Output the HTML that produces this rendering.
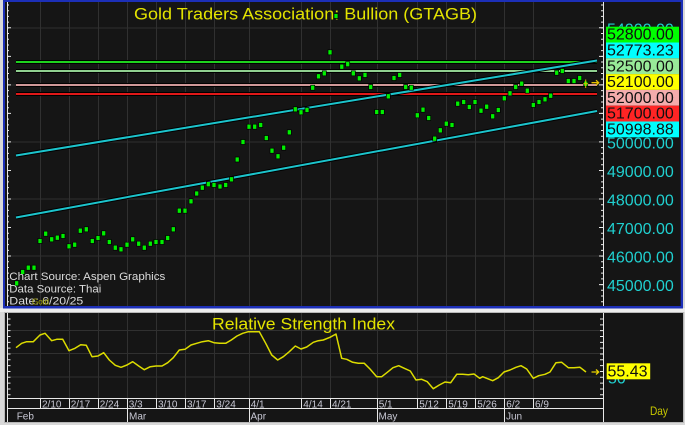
<!DOCTYPE html>
<html>
<head>
<meta charset="utf-8">
<style>
html,body{margin:0;padding:0;background:#d8d8d8;}
svg{display:block;}
</style>
</head>
<body>
<svg width="685" height="425" viewBox="0 0 685 425" xmlns="http://www.w3.org/2000/svg" font-family="'Liberation Sans', Arial, sans-serif">
<rect x="0" y="0" width="685" height="425" fill="#d8d8d8"/>
<rect x="0" y="308" width="685" height="4" fill="#ececec"/>

<!-- ===== Upper panel ===== -->
<rect x="3" y="0" width="680" height="308.5" fill="#1c2fb8"/>
<rect x="5" y="2" width="675.7" height="304" fill="#151515"/>

<!-- vertical gridlines -->
<g stroke="#303030" stroke-width="1">
<path d="M40.5,2V306M69.5,2V306M98.5,2V306M127.5,2V306M156.5,2V306M185.5,2V306M214.5,2V306M249.5,2V306M301.5,2V306M330.5,2V306M377.5,2V306M417.5,2V306M446.5,2V306M475.5,2V306M504.5,2V306M533.5,2V306"/>
<path d="M7,28H603M7,85H603M7,142H603M7,199H603M7,256H603"/>
</g>

<!-- left & right axis -->
<g stroke="#e8e8e8">
<line x1="7.5" y1="2" x2="7.5" y2="306" stroke-width="1"/>
<line x1="8" y1="4.5" x2="8" y2="306" stroke-width="2" stroke-dasharray="1 4.706"/>
<line x1="9" y1="27.3" x2="9" y2="306" stroke-width="4" stroke-dasharray="1 27.53"/>
<line x1="603.5" y1="2" x2="603.5" y2="306" stroke-width="1"/>
<line x1="602" y1="4.5" x2="602" y2="306" stroke-width="2" stroke-dasharray="1 4.706"/>
<line x1="601" y1="27.3" x2="601" y2="306" stroke-width="4" stroke-dasharray="1 27.53"/>
</g>

<!-- horizontal level lines -->
<g>
<rect x="16" y="60" width="581" height="4" fill="#000"/>
<rect x="16" y="61" width="581" height="2" fill="#1ed21e"/>
<rect x="16" y="69" width="581" height="4" fill="#000"/>
<rect x="16" y="70" width="581" height="2" fill="#90d090"/>
<rect x="16" y="83" width="581" height="4" fill="#000"/>
<rect x="16" y="84" width="581" height="2" fill="#d09898"/>
<rect x="16" y="92" width="581" height="4" fill="#000"/>
<rect x="16" y="93" width="581" height="2" fill="#e01818"/>
</g>

<!-- channel lines -->
<g stroke-linecap="butt">
<line x1="16" y1="155.5" x2="597" y2="60.5" stroke="#000" stroke-width="4"/>
<line x1="16" y1="217.5" x2="597" y2="111" stroke="#000" stroke-width="4"/>
<line x1="16" y1="155.5" x2="597" y2="60.5" stroke="#1cc4cc" stroke-width="2"/>
<line x1="16" y1="217.5" x2="597" y2="111" stroke="#1cc4cc" stroke-width="2"/>
</g>

<!-- title -->
<text x="134" y="19.5" font-size="17" fill="#e4e400" textLength="343" lengthAdjust="spacingAndGlyphs">Gold  Traders  Association:  Bullion  (GTAGB)</text>

<!-- price dots -->
<path fill="#00f000" stroke="#000" stroke-width="0.7" d="M14.7,280.8h4v5h-4zM20.7,269.5h4v5h-4zM26.3,265.2h4v5h-4zM32,265.2h4v5h-4zM38,238.5h4v5h-4zM43.7,231.2h4v5h-4zM49.7,236.8h4v5h-4zM55.3,235.2h4v5h-4zM61,233.5h4v5h-4zM67,243.8h4v5h-4zM72.7,242.2h4v5h-4zM78.3,228.2h4v5h-4zM84.3,226.8h4v5h-4zM90.3,238.5h4v5h-4zM96,235.5h4v5h-4zM101.7,230.8h4v5h-4zM107.3,239.5h4v5h-4zM113.3,245.2h4v5h-4zM119,246.8h4v5h-4zM125,242.2h4v5h-4zM130.7,236.8h4v5h-4zM136.7,241.2h4v5h-4zM142.3,245.2h4v5h-4zM148.3,241.2h4v5h-4zM154,239.5h4v5h-4zM160,239.5h4v5h-4zM165.7,235.5h4v5h-4zM171.3,226.8h4v5h-4zM177.3,208.2h4v5h-4zM183,208.2h4v5h-4zM189,198.8h4v5h-4zM194.7,191h4v5h-4zM200.3,185.2h4v5h-4zM206.3,181.7h4v5h-4zM212,182.5h4v5h-4zM218,184h4v5h-4zM223.7,182.5h4v5h-4zM229.5,176.8h4v5h-4zM235.2,157h4v5h-4zM241,139.5h4v5h-4zM247,124.2h4v5h-4zM252.7,124.2h4v5h-4zM258.7,122.5h4v5h-4zM264.3,135.5h4v5h-4zM270,148.2h4v5h-4zM276,153.8h4v5h-4zM281.7,145.2h4v5h-4zM287.3,129.8h4v5h-4zM293.3,106.8h4v5h-4zM299,109.8h4v5h-4zM305,107.5h4v5h-4zM310.7,85.2h4v5h-4zM316.5,73.8h4v5h-4zM322.3,70.8h4v5h-4zM328,49.8h4v5h-4zM334,13.5h4v5h-4zM339.8,64.2h4v5h-4zM345.7,61.7h4v5h-4zM351.3,70.8h4v5h-4zM357.3,75.8h4v5h-4zM363,72.5h4v5h-4zM368.7,84.5h4v5h-4zM374.7,109.5h4v5h-4zM380.3,109.5h4v5h-4zM386.3,93.8h4v5h-4zM392,75.5h4v5h-4zM397.7,72.5h4v5h-4zM403.7,84.5h4v5h-4zM409.3,85.2h4v5h-4zM415.3,112.8h4v5h-4zM421,107.2h4v5h-4zM426.7,115.5h4v5h-4zM432.7,136.2h4v5h-4zM438.3,127.8h4v5h-4zM444.3,121.2h4v5h-4zM450,122.5h4v5h-4zM455.7,101.2h4v5h-4zM461.7,99.5h4v5h-4zM467.3,104.5h4v5h-4zM473,99.5h4v5h-4zM479,108.2h4v5h-4zM484.7,104.2h4v5h-4zM490.7,113.8h4v5h-4zM496.3,107.5h4v5h-4zM502.3,95.8h4v5h-4zM508,90.8h4v5h-4zM513.7,84.5h4v5h-4zM519.7,81.2h4v5h-4zM525.3,88.2h4v5h-4zM531.3,102.5h4v5h-4zM537,99.5h4v5h-4zM543,96.8h4v5h-4zM548.7,93.2h4v5h-4zM554.7,70.2h4v5h-4zM560.3,68.5h4v5h-4zM566.3,78.5h4v5h-4zM572,78.5h4v5h-4zM577.7,75.5h4v5h-4zM583.7,81.2h4v5h-4z"/>
<!-- last marker and arrow -->
<path d="M585.7,79.5V88M583.2,83.7H588.2" stroke="#d8c000" stroke-width="1"/>
<path d="M591.5,82.7H598.5M596,80.2L598.7,82.7L596,85.2" stroke="#e8c000" stroke-width="1.3" fill="none"/>

<!-- source text -->
<g font-size="11" fill="#dcdcdc">
<text x="9.3" y="280" textLength="156" lengthAdjust="spacingAndGlyphs">Chart  Source:  Aspen  Graphics</text>
<text x="9.3" y="292.3" textLength="92" lengthAdjust="spacingAndGlyphs">Data  Source:  Thai</text>
<text x="9.3" y="304.5" textLength="74" lengthAdjust="spacingAndGlyphs">Date:     6/20/25</text>
</g>
<text x="32" y="304.5" font-size="8" fill="#a8a800">Gold</text>

<!-- right axis labels -->
<g font-size="16" fill="#20d0d0">
<text x="607" y="34.5">54000.00</text>
<text x="607" y="148.4">50000.00</text>
<text x="607" y="177">49000.00</text>
<text x="607" y="205.5">48000.00</text>
<text x="607" y="234">47000.00</text>
<text x="607" y="262.5">46000.00</text>
<text x="607" y="291.1">45000.00</text>
</g>
<g>
<rect x="606" y="26.7" width="73" height="15.8" fill="#00ff00"/>
<rect x="606" y="42.5" width="73" height="15.8" fill="#00ffff"/>
<rect x="606" y="58.3" width="73" height="15.8" fill="#98ea98"/>
<rect x="606" y="74.1" width="73" height="15.8" fill="#ffff00"/>
<rect x="606" y="89.9" width="73" height="15.8" fill="#f4acac"/>
<rect x="606" y="105.7" width="73" height="15.8" fill="#ff2424"/>
<rect x="606" y="121.5" width="73" height="15.8" fill="#00ffff"/>
</g>
<g font-size="16" fill="#101010">
<text x="607" y="39.7">52800.00</text>
<text x="607" y="55.5">52773.23</text>
<text x="607" y="71.3">52500.00</text>
<text x="607" y="87.1">52100.00</text>
<text x="607" y="102.9">52000.00</text>
<text x="607" y="118.7">51700.00</text>
<text x="607" y="134.5">50998.88</text>
</g>

<!-- ===== Lower panel ===== -->
<rect x="4.5" y="312.5" width="679" height="110" fill="#151515" stroke="#b8b8b8" stroke-width="1"/>

<g stroke="#303030" stroke-width="1">
<path d="M40.5,313V398M69.5,313V398M98.5,313V398M127.5,313V398M156.5,313V398M185.5,313V398M214.5,313V398M249.5,313V398M301.5,313V398M330.5,313V398M377.5,313V398M417.5,313V398M446.5,313V398M475.5,313V398M504.5,313V398M533.5,313V398"/>
<path d="M7,330.5H603M7,353.5H603M7,377H603"/>
</g>

<g stroke="#e8e8e8">
<line x1="7.5" y1="313" x2="7.5" y2="422" stroke-width="1"/>
<line x1="9" y1="318.5" x2="9" y2="397" stroke-width="3" stroke-dasharray="1 4.83"/>
<line x1="603.5" y1="313" x2="603.5" y2="422" stroke-width="1"/>
<line x1="601.5" y1="318.5" x2="601.5" y2="397" stroke-width="3" stroke-dasharray="1 4.83"/>
<path d="M7,398.5H603M7,408.5H603" stroke-width="1"/>
<path d="M40.5,398V408.5M69.5,398V408.5M98.5,398V408.5M127.5,398V422M156.5,398V408.5M185.5,398V408.5M214.5,398V408.5M249.5,398V422M301.5,398V408.5M330.5,398V408.5M377.5,398V422M417.5,398V408.5M446.5,398V408.5M475.5,398V408.5M504.5,398V422M533.5,398V408.5" stroke-width="1"/>
</g>

<!-- RSI title -->
<text x="212" y="329.5" font-size="17" fill="#e4e400" textLength="183" lengthAdjust="spacingAndGlyphs">Relative  Strength  Index</text>

<!-- RSI line -->
<polyline fill="none" stroke="#dcdc00" stroke-width="1.5" stroke-linejoin="round" points="16,347.7 21.7,343.3 26.7,341.7 33.3,341.7 40,335 45,333.3 51.7,340.7 56.7,339.3 62.7,339.3 69,350.7 75,348.3 80.7,344.7 86.3,345.3 92,356.7 98,356 103.7,352.7 109.3,360 115.3,365.3 121,367.3 127,365 132.7,361.7 138.7,366 144.3,369.7 150.3,366.7 156,366 162,366 167.7,362.7 173.3,357.7 179.3,350 185,349.3 191,345 196.7,343.3 202.3,341.7 208.3,340.7 214,342.7 219.7,343.3 225.7,343.3 231.3,340 237,336 242.7,333.3 248.3,331.7 254.3,331.7 259.3,331.7 265.7,343.3 271.7,355 277.7,360 283.3,356.7 289.3,351.7 295.3,346 301,349 306.7,347 313.3,342.3 318.3,340.7 323.3,340 330,337.3 336,334 341.7,358.3 346.7,359.3 352.7,362.3 358.3,363.3 364.3,363.3 370,369 376.7,376.7 381.7,376.7 387.3,372.3 393,367.7 398.7,365.7 404.3,368.3 410.3,371 416,380 421.7,379.3 427.3,381.7 433.3,388.7 439.3,385 445,382 450.7,382.7 456.7,374.3 462.7,374.3 468.3,374.7 474,374 479.7,378.3 482.7,376.7 486.7,378.3 492.7,380.7 498.3,377.7 504,372 510,370 516,367.3 521,365.7 526.7,369 533.3,378.3 538.7,375.7 545,374.3 550,372 556,362.7 561.7,362.3 568.3,367.7 574,367.7 580,367.3 586,372"/>
<path d="M591.5,372H598.5M596,369.5L598.7,372L596,374.5" stroke="#e8d000" stroke-width="1.3" fill="none"/>

<!-- RSI labels -->
<text x="608" y="383.5" font-size="16" fill="#20d0d0">50</text>
<rect x="606.7" y="363.3" width="43.5" height="16" fill="#ffff00"/>
<text x="607.5" y="376.5" font-size="16" fill="#101010">55.43</text>
<text x="650" y="415" font-size="12" fill="#c8c800" textLength="18" lengthAdjust="spacingAndGlyphs">Day</text>

<!-- date labels -->
<g font-size="10" fill="#c8c8d4">
<text x="42" y="407.5">2/10</text>
<text x="70.7" y="407.5">2/17</text>
<text x="99.7" y="407.5">2/24</text>
<text x="128.7" y="407.5">3/3</text>
<text x="158" y="407.5">3/10</text>
<text x="187" y="407.5">3/17</text>
<text x="216.3" y="407.5">3/24</text>
<text x="250.7" y="407.5">4/1</text>
<text x="303.3" y="407.5">4/14</text>
<text x="332" y="407.5">4/21</text>
<text x="378.7" y="407.5">5/1</text>
<text x="419.3" y="407.5">5/12</text>
<text x="448.3" y="407.5">5/19</text>
<text x="477.3" y="407.5">5/26</text>
<text x="506.3" y="407.5">6/2</text>
<text x="535" y="407.5">6/9</text>
<text x="16.7" y="419.5">Feb</text>
<text x="129" y="419.5">Mar</text>
<text x="250.5" y="419.5">Apr</text>
<text x="378.5" y="419.5">May</text>
<text x="506" y="419.5">Jun</text>
</g>
</svg>
</body>
</html>
